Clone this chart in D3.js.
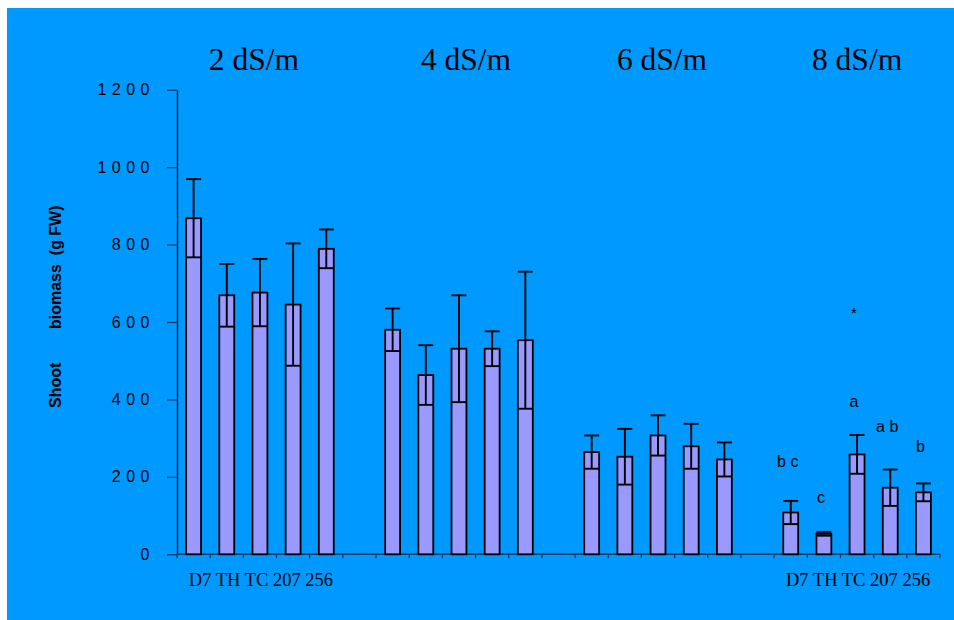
<!DOCTYPE html>
<html>
<head>
<meta charset="utf-8">
<script src="https://cdn.jsdelivr.net/npm/d3@7"></script>
<style>
  html, body { margin: 0; padding: 0; background: #ffffff; }
  svg { display: block; }
  text { white-space: pre; }
</style>
</head>
<body>
<svg id="chart" width="954" height="620"></svg>
<script>
// ---------------- data ----------------
const salinity = ["2 dS/m", "4 dS/m", "6 dS/m", "8 dS/m"];
const genotypes = ["D7", "TH", "TC", "207", "256"];
const mean2 = [868, 669, 676, 645, 789];
const sd2   = [101, 81, 87, 158, 50];
const mean4 = [580, 463, 531, 531, 553];
const sd4   = [55, 77, 138, 45, 177];
const mean6 = [264, 252, 307, 279, 245];
const sd6   = [43, 72, 52, 58, 44];
const mean8 = [108, 53, 258, 172, 160];
const sd8   = [30, 5, 50, 47, 23];
const letters8 = ["b c", "c", "a", "a b", "b"];
const letterY8 = [225, 133, 380, 317, 265];   // baseline value of each letter
const starLabel = "*";
const starY = 610;
const yTicks = [0, 200, 400, 600, 800, 1000, 1200];
const categoryLabel = "D7 TH TC 207 256";
const labelledGroups = [0, 3];
const yLabelA = "Shoot";
const yLabelB = "biomass  (g FW)";

const means = [mean2, mean4, mean6, mean8];
const sds = [sd2, sd4, sd6, sd8];

// ---------------- layout ----------------
const svg = d3.select("#chart");
svg.append("rect").attr("x", 7).attr("y", 8).attr("width", 947).attr("height", 612)
   .attr("fill", "#0099FF");

const x0 = 177, x1 = 940, yBase = 554.3, yTop = 89.7;
// 4 groups of 5 + 3 gap slots = 23 slots
const slots = d3.range(23);
const x = d3.scaleBand().domain(slots).range([x0, x1]).paddingInner(0).paddingOuter(0);
const y = d3.scaleLinear().domain([0, 1200]).range([yBase, yTop]);

const rows = [];
means.forEach((m, g) => m.forEach((v, i) => {
  rows.push({ g, i, slot: g * 6 + i, mean: v, sd: sds[g][i] });
}));

const bw = x.bandwidth() * 0.45;
const cx = d => x(d.slot) + x.bandwidth() / 2;

// y axis
const yAxis = d3.axisLeft(y).tickValues(yTicks).tickFormat(d3.format("d"))
  .tickSize(10).tickSizeOuter(0).tickPadding(12);
const gy = svg.append("g").attr("transform", `translate(${x0},0)`).call(yAxis);
gy.select(".domain").attr("stroke", "#000").attr("stroke-width", 1.3);
gy.selectAll(".tick line").attr("stroke", "#0a3a66").attr("stroke-width", 1.3);
gy.selectAll(".tick text")
  .attr("font-family", "'Liberation Sans', Arial, sans-serif")
  .attr("font-size", 16)
  .attr("fill", "#000")
  .style("letter-spacing", "5.5px");

// x axis line with ticks at every slot boundary
const bounds = slots.map(s => x(s)).concat([x1]);
const gx = svg.append("g");
gx.append("line").attr("x1", x0).attr("x2", x1).attr("y1", yBase).attr("y2", yBase)
  .attr("stroke", "#0a3a66").attr("stroke-width", 1.5);
gx.selectAll("line.t").data(bounds).join("line").attr("class", "t")
  .attr("x1", d => d).attr("x2", d => d).attr("y1", yBase).attr("y2", yBase + 4)
  .attr("stroke", "#0a3a66").attr("stroke-width", 1.2);

// bars
svg.append("g").selectAll("rect").data(rows).join("rect")
  .attr("x", d => cx(d) - bw / 2)
  .attr("y", d => y(d.mean))
  .attr("width", bw)
  .attr("height", d => yBase - y(d.mean))
  .attr("fill", "#9999FF")
  .attr("stroke", "#000")
  .attr("stroke-width", 1.8);

// error bars
const eb = svg.append("g").attr("stroke", "#000").attr("stroke-width", 1.9);
rows.forEach(d => {
  const c = cx(d);
  eb.append("line").attr("x1", c).attr("x2", c).attr("y1", y(d.mean + d.sd)).attr("y2", y(d.mean - d.sd));
  eb.append("line").attr("x1", c - bw / 2).attr("x2", c + bw / 2).attr("y1", y(d.mean + d.sd)).attr("y2", y(d.mean + d.sd));
  eb.append("line").attr("x1", c - bw / 2).attr("x2", c + bw / 2).attr("y1", y(d.mean - d.sd)).attr("y2", y(d.mean - d.sd));
});

// group titles
const titleDx = [-6, 7, 4, 0];
svg.append("g").selectAll("text").data(salinity).join("text")
  .attr("x", (d, g) => x(g * 6 + 2) + x.bandwidth() / 2 + titleDx[g])
  .attr("y", 70)
  .attr("text-anchor", "middle")
  .attr("font-family", "'Liberation Serif', 'Times New Roman', serif")
  .attr("font-size", 31.5)
  .attr("fill", "#000")
  .text(d => d);

// category labels under first and last group
svg.append("g").selectAll("text").data(labelledGroups).join("text")
  .attr("x", g => x(g * 6 + 2) + x.bandwidth() / 2 + 1)
  .attr("y", 586)
  .attr("text-anchor", "middle")
  .attr("font-family", "'Liberation Serif', 'Times New Roman', serif")
  .attr("font-size", 18.5)
  .attr("fill", "#000")
  .text(categoryLabel);

// significance letters (8 dS/m)
const last = rows.filter(d => d.g === 3);
svg.append("g").selectAll("text").data(last).join("text")
  .attr("x", d => cx(d) - 3)
  .attr("y", d => y(letterY8[d.i]))
  .attr("text-anchor", "middle")
  .attr("font-family", "'Liberation Sans', Arial, sans-serif")
  .attr("font-size", 16)
  .attr("fill", "#000")
  .text(d => letters8[d.i]);
svg.append("text")
  .attr("x", cx(last[2]) - 3)
  .attr("y", y(starY))
  .attr("text-anchor", "middle")
  .attr("font-family", "'Liberation Sans', Arial, sans-serif")
  .attr("font-size", 14)
  .attr("fill", "#000")
  .text(starLabel);

// y axis title
const yl = svg.append("g").attr("font-family", "'Liberation Sans', Arial, sans-serif")
  .attr("font-size", 16).attr("font-weight", "bold").attr("fill", "#000");
yl.append("text").attr("transform", "translate(61,408) rotate(-90)").text(yLabelA);
yl.append("text").attr("transform", "translate(61,329) rotate(-90)").text(yLabelB);
</script>
</body>
</html>
